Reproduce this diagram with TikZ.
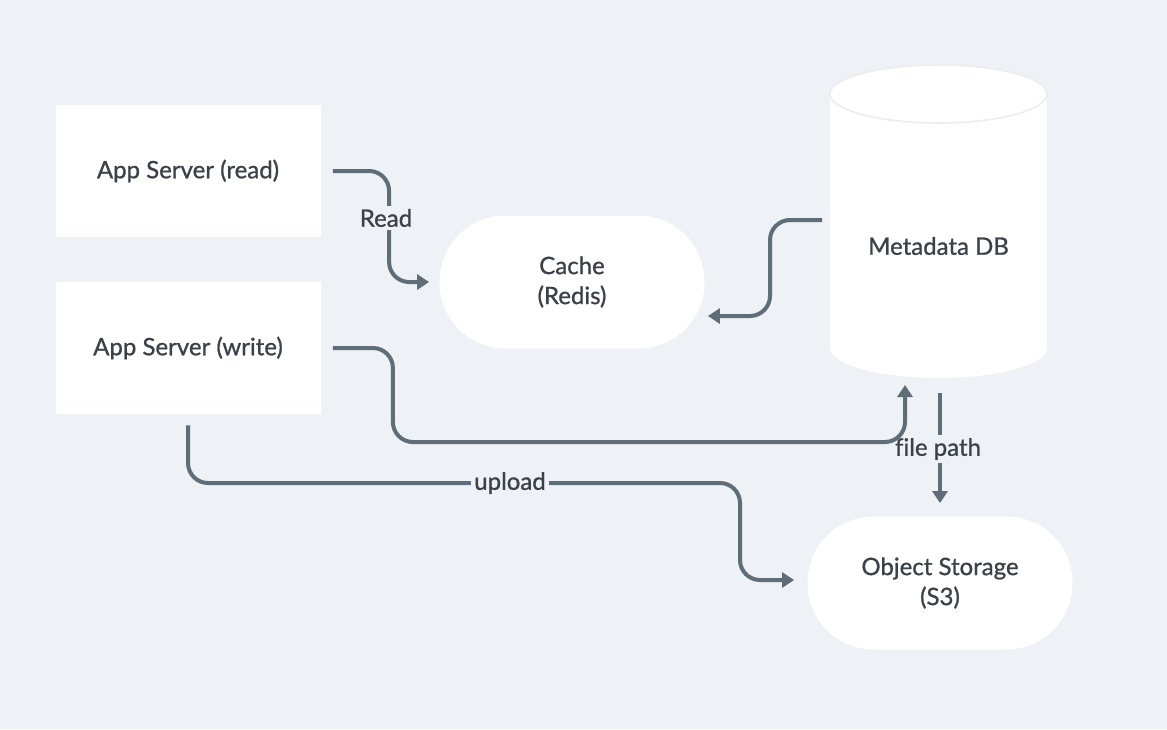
\documentclass[tikz,border=0pt]{standalone}
\usepackage{fontspec}
\setmainfont{Lato}[Ligatures=NoCommon, UprightFeatures={FakeBold=0.9}]
\usetikzlibrary{arrows.meta,calc}
\definecolor{bgc}{HTML}{EEF1F5}
\definecolor{linec}{HTML}{5F6D78}
\definecolor{txtc}{HTML}{3B4148}

\begin{document}
\begin{tikzpicture}[x=0.5pt, y=-0.5pt,
  box/.style={fill=white, minimum width=132.5pt, minimum height=66pt, inner sep=0, text=txtc, font=\fontsize{12}{15}\selectfont, align=center},
  pill/.style={box, minimum height=66.5pt, rounded corners=33pt},
  flow/.style={linec, line width=2pt, rounded corners=10pt, -{Triangle[length=6pt,width=7.5pt]}},
  lbl/.style={fill=bgc, text=txtc, inner sep=1.5pt, font=\fontsize{12}{15}\selectfont}]
\fill[bgc] (0,0) rectangle (1167,729);
\useasboundingbox (0,0) rectangle (1167,729);

\node[box] (rd) at (188,171) {App Server (read)};
\node[box] (wr) at (188,348) {App Server (write)};
\node[pill] (cache) at (572,282) {Cache\\(Redis)};
\node[pill] (obj) at (940,583) {Object Storage\\(S3)};

\fill[white] (830,94) rectangle (1047,348);
\fill[white] (938.5,348) ellipse (108.5 and 30);
\filldraw[white, draw=black!7, line width=0.8pt] (938.5,94) ellipse (108.5 and 29);
\node[text=txtc, font=\fontsize{12}{15}\selectfont] (db) at (938.5,246) {Metadata DB};
\coordinate (dbw) at (822,220);
\coordinate (dbs) at (940,393);
\coordinate (dbin) at (905,385);

\draw[flow] ($(rd.east)+(12,0)$) -| ($(cache.west)+(-50,0)$) -- ($(cache.west)+(-10,0)$);
\draw[flow] (dbw) -- ++(-52,0) |- ($(cache.east)+(3,34)$);
\draw[flow] (dbs) -- ($(obj.north)+(0,-13)$);
\node[lbl] at (938,449) {file path};
\draw[flow] ($(wr.east)+(12,0)$) -| ++(60,94) -| (dbin);
\draw[flow] ($(wr.south)+(0,11)$) |- (740,483) |- ($(obj.west)+(-13,-3)$);
\node[lbl] at (386,218) {Read};
\node[lbl] at (510,483) {upload};
\end{tikzpicture}
\end{document}
